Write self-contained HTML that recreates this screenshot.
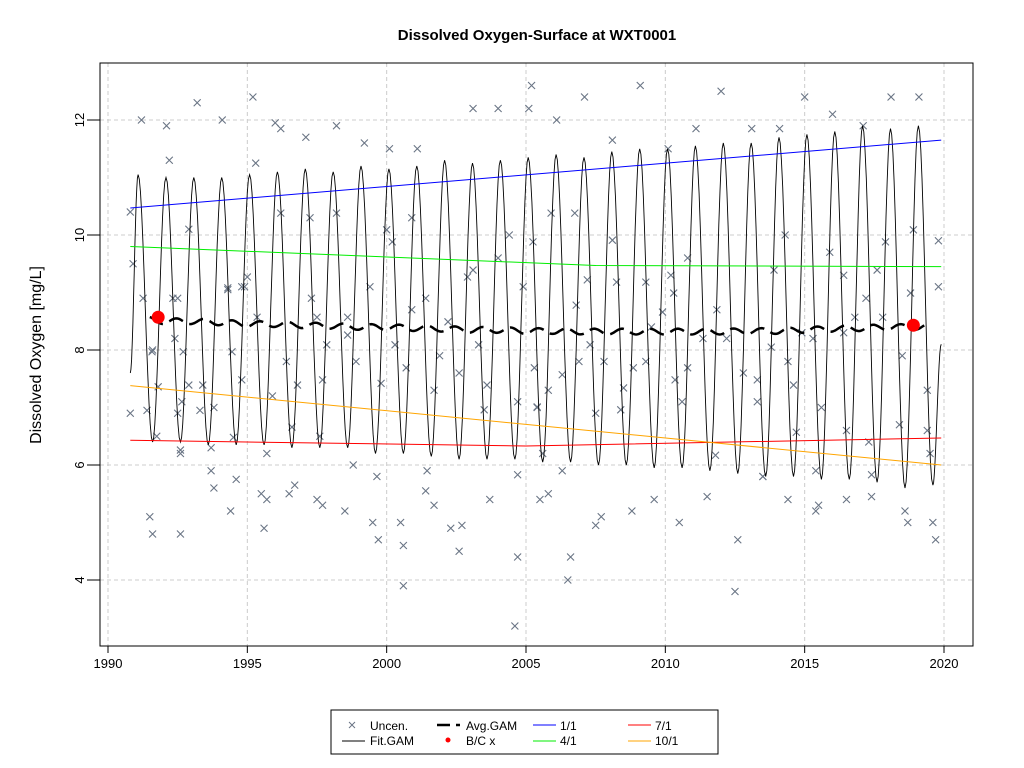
<!DOCTYPE html>
<html><head><meta charset="utf-8">
<style>
body{margin:0;background:#fff;}
svg{display:block;font-family:"Liberation Sans",Arial,sans-serif;}
</style></head>
<body>
<svg id="chart" width="1024" height="768" viewBox="0 0 1024 768">
<rect x="0" y="0" width="1024" height="768" fill="#fff"/>
<text x="537" y="40" text-anchor="middle" font-size="15" font-weight="bold">Dissolved Oxygen-Surface at WXT0001</text>
<text transform="translate(41,355) rotate(-90)" text-anchor="middle" font-size="16">Dissolved Oxygen [mg/L]</text>
<g id="grid"></g>
<g id="marks"></g>
<rect x="100" y="63" width="873" height="583" fill="none" stroke="#000"/>
<g id="axes"></g>
<g>
<rect x="331" y="710" width="387" height="44" fill="#fff" stroke="#000"/>
<g><path d="M349,722L355,728M355,722L349,728" stroke="#6a7585"/><text x="370" y="730" font-size="12">Uncen.</text></g>
<g><line x1="342" y1="741" x2="365" y2="741" stroke="#000"/><text x="370" y="745" font-size="12">Fit.GAM</text></g>
<g><line x1="437" y1="725" x2="450" y2="725" stroke="#000" stroke-width="2.5"/><line x1="456" y1="725" x2="460" y2="725" stroke="#000" stroke-width="2.5"/><text x="466" y="730" font-size="12">Avg.GAM</text></g>
<g><circle cx="448" cy="740" r="2.5" fill="red"/><text x="466" y="745" font-size="12">B/C x</text></g>
<g><line x1="533" y1="725" x2="556" y2="725" stroke="#0000ff"/><text x="560" y="730" font-size="12">1/1</text></g>
<g><line x1="533" y1="741" x2="556" y2="741" stroke="#00ee00"/><text x="560" y="745" font-size="12">4/1</text></g>
<g><line x1="628" y1="725" x2="651" y2="725" stroke="#ff0000"/><text x="655" y="730" font-size="12">7/1</text></g>
<g><line x1="628" y1="741" x2="651" y2="741" stroke="#ffa500"/><text x="655" y="745" font-size="12">10/1</text></g>
</g>
</svg>
<script>
const xTicks=[1990,1995,2000,2005,2010,2015,2020];
const yTicks=[4,6,8,10,12];
const obsYears=[1990.8,1990.9,1990.8,1991.2,1991.5,1991.6,1991.4,1991.6,1992.1,1992.2,1992.5,1992.6,1992.6,1993.2,1992.9,1993.3,1993.7,1993.8,1994.1,1994.3,1994.4,1994.6,1994.9,1995.2,1995.3,1995.5,1995.7,1995.6,1996.0,1996.2,1996.5,1996.7,1997.1,1997.5,1997.7,1998.2,1998.5,1998.8,1999.2,1999.5,1999.7,2000.1,2000.6,2000.6,2000.5,2001.1,2001.4,2001.7,2002.3,2002.6,2002.7,2003.1,2003.7,2004.0,2004.6,2004.7,2005.1,2005.2,2005.5,2005.8,2006.1,2006.5,2006.6,2007.1,2007.5,2007.7,2008.1,2008.8,2009.1,2009.6,2010.1,2010.5,2011.1,2011.5,2012.0,2012.5,2012.6,2013.1,2013.5,2014.1,2014.4,2015.0,2015.4,2015.5,2016.0,2016.5,2017.1,2017.4,2018.1,2018.6,2018.7,2019.1,2019.6,2019.7,2019.8,2019.8,
1991.26,1992.33,1991.58,1992.4,1992.7,1991.8,1992.9,1993.4,1992.65,1992.5,1993.8,1994.3,1994.8,1995.0,1995.35,1994.45,1994.8,1995.9,1996.4,1996.8,1996.6,1997.3,1997.5,1997.7,1997.85,1998.6,1998.6,1998.9,1999.4,1999.8,2000.2,2000.3,2000.7,2000.9,2001.4,2001.7,2001.9,2002.2,2002.6,2002.9,2003.3,2003.6,2003.5,2004.0,2004.7,2004.9,2005.25,2005.3,2005.4,2003.1,1996.2,1998.2,1997.25,2000.9,2004.4,2000.0,
2005.9,2006.75,2008.1,2007.2,2008.25,2009.3,2006.8,2007.3,2006.9,2007.8,2006.3,2005.8,2007.5,2008.4,2008.5,2008.85,2009.3,2009.5,2009.9,2010.3,2010.2,2010.8,2010.8,2010.35,2010.6,2011.8,2011.35,2011.85,2012.2,2012.8,2013.3,2013.3,2013.8,2014.4,2014.6,2014.7,2014.3,2013.9,2014.9,2015.3,2015.6,2015.9,2016.4,2016.4,2016.5,2016.8,2017.2,2017.8,2017.6,2017.9,2018.5,2018.8,2018.9,2019.4,2019.4,2019.5,2018.4,2017.3,2017.4,2015.4,2013.5,2006.3,2005.4,2005.6,
1992.6,1993.7,1995.7,1999.65,2001.45,2004.7,1991.75,1994.5,1997.6];
const obsValues=[10.4,9.5,6.9,12.0,5.1,4.8,6.95,8.0,11.9,11.3,8.9,4.8,6.2,12.3,10.1,6.95,5.9,5.6,12.0,9.05,5.2,5.75,9.1,12.4,11.25,5.5,5.4,4.9,11.95,11.85,5.5,5.65,11.7,5.4,5.3,11.9,5.2,6.0,11.6,5.0,4.7,11.5,3.9,4.6,5.0,11.5,5.55,5.3,4.9,4.5,4.95,12.2,5.4,12.2,3.2,4.4,12.2,12.6,5.4,5.5,12.0,4.0,4.4,12.4,4.95,5.1,11.65,5.2,12.6,5.4,11.5,5.0,11.85,5.45,12.5,3.8,4.7,11.85,5.8,11.85,5.4,12.4,5.2,5.3,12.1,5.4,11.9,5.45,12.4,5.2,5.0,12.4,5.0,4.7,9.9,9.1,
8.9,8.9,7.97,8.2,7.97,7.36,7.39,7.39,7.1,6.9,7.0,9.08,9.1,9.27,8.57,7.97,7.48,7.2,7.8,7.39,6.66,8.9,8.57,7.48,8.09,8.26,8.57,7.8,9.1,7.42,9.88,8.09,7.69,8.7,8.9,7.3,7.9,8.49,7.6,9.27,8.09,7.39,6.96,9.6,7.1,9.1,9.88,7.69,7.01,9.39,10.38,10.38,10.3,10.3,10.0,10.09,
10.38,10.38,9.91,9.22,9.18,9.18,8.78,8.09,7.8,7.8,7.57,7.3,6.9,6.96,7.34,7.69,7.8,8.4,8.66,8.99,9.3,9.6,7.69,7.48,7.1,6.17,8.2,8.7,8.2,7.6,7.48,7.1,8.05,7.8,7.39,6.57,10.0,9.39,8.3,8.2,7.0,9.7,9.3,8.3,6.6,8.57,8.9,8.57,9.39,9.88,7.9,8.99,10.09,7.3,6.6,6.2,6.7,6.4,5.83,5.9,5.8,5.9,7.0,6.2,
6.26,6.3,6.2,5.8,5.9,5.83,6.5,6.48,6.5];
const peakValues=[11.05,11.0,11.0,11.0,11.05,11.1,11.15,11.1,11.2,11.15,11.2,11.3,11.25,11.3,11.35,11.4,11.35,11.45,11.5,11.5,11.55,11.6,11.6,11.7,11.75,11.8,11.9,11.85,11.9];
const troughValues=[6.4,6.4,6.35,6.35,6.35,6.3,6.3,6.3,6.2,6.2,6.15,6.1,6.1,6.1,6.05,6.05,6.0,6.0,5.95,5.95,5.9,5.85,5.8,5.8,5.75,5.75,5.7,5.6,5.65];
const fitStart=[1990.8,7.6];
const fitEnd=[2019.9,8.1];
const avgValues=[8.55,8.5,8.5,8.48,8.45,8.45,8.43,8.42,8.4,8.4,8.38,8.37,8.35,8.35,8.33,8.33,8.32,8.32,8.32,8.32,8.32,8.32,8.33,8.33,8.35,8.37,8.38,8.4,8.4];
const line11=[[1990.8,10.47],[2019.9,11.65]];
const line41=[[1990.8,9.8],[2007.5,9.47],[2019.9,9.45]];
const line71=[[1990.8,6.43],[2005.0,6.33],[2019.9,6.47]];
const line101=[[1990.8,7.38],[2019.9,6.0]];
const bcPoints=[[1991.8,8.57],[2018.9,8.43]];

const NS="http://www.w3.org/2000/svg";
const X=v=>108+(v-1990)*(836/30);
const Y=v=>120+(12-v)*57.5;
function mk(tag,attrs,parent){const e=document.createElementNS(NS,tag);for(const k in attrs)e.setAttribute(k,attrs[k]);parent.appendChild(e);return e;}
const grid=document.getElementById('grid'),marks=document.getElementById('marks'),axes=document.getElementById('axes');
xTicks.forEach(t=>{
  const g=mk('line',{x1:X(t),x2:X(t),y1:63,y2:646,stroke:'#cccccc','stroke-dasharray':'4,3'},grid);
  
  
  const tk=mk('line',{x1:X(t),x2:X(t),y1:646,y2:653,stroke:'#000'},axes);
  
  
  const tx=mk('text',{x:X(t),y:668,'text-anchor':'middle','font-size':13},axes);tx.textContent=t;
  
  
});
yTicks.forEach(t=>{
  const g=mk('line',{x1:100,x2:973,y1:Y(t),y2:Y(t),stroke:'#cccccc','stroke-dasharray':'4,3'},grid);
  
  
  const tk=mk('line',{x1:87,x2:100,y1:Y(t),y2:Y(t),stroke:'#000'},axes);
  
  
  const tx=mk('text',{transform:`translate(84,${Y(t)}) rotate(-90)`,'text-anchor':'middle','font-size':13},axes);tx.textContent=t;
  
  
});
obsYears.forEach((yr,i)=>{
  const cx=X(yr),cy=Y(obsValues[i]);
  const p=mk('path',{d:`M${cx-3.5},${cy-3.5}L${cx+3.5},${cy+3.5}M${cx+3.5},${cy-3.5}L${cx-3.5},${cy+3.5}`,stroke:'#6a7585','stroke-width':1.1},marks);
  
  
});
const ext=[fitStart];
peakValues.forEach((p,i)=>{ext.push([1991.08+i,p]);ext.push([1991.6+i,troughValues[i]]);});
ext.push(fitEnd);
let d='';
for(let i=0;i<ext.length-1;i++){
  const [x0,y0]=ext[i],[x1,y1]=ext[i+1];
  for(let s=0;s<=12;s++){const f=s/12;const v=y0+(y1-y0)*(1-Math.cos(Math.PI*f))/2;const xx=x0+(x1-x0)*f;d+=(d?'L':'M')+X(xx).toFixed(1)+','+Y(v).toFixed(1);}
}
const fit=mk('path',{d:d,fill:'none',stroke:'#000','stroke-width':0.9},marks);


[[line11,'#0000ff','line-1-1'],[line41,'#00ee00','line-4-1'],[line71,'#ff0000','line-7-1'],[line101,'#ffa500','line-10-1']].forEach(([pts,c,n])=>{
  const p=mk('polyline',{points:pts.map(q=>X(q[0])+','+Y(q[1])).join(' '),fill:'none',stroke:c,'stroke-width':1},marks);
  
  
});
let ad='';
for(let x=1991.5;x<=2019.3;x+=0.05){
  const idx=Math.min(avgValues.length-1,Math.max(0,x-1991));const i0=Math.floor(idx),i1=Math.min(avgValues.length-1,i0+1);
  const v=avgValues[i0]+(avgValues[i1]-avgValues[i0])*(idx-i0)+0.05*Math.sin(2*Math.PI*(x-0.2));
  ad+=(ad?'L':'M')+X(x).toFixed(1)+','+Y(v).toFixed(1);
}
const avg=mk('path',{d:ad,fill:'none',stroke:'#000','stroke-width':2.5,'stroke-dasharray':'15,7'},marks);


bcPoints.forEach(p=>{
  const c=mk('circle',{cx:X(p[0]),cy:Y(p[1]),r:6.5,fill:'red'},marks);
  
  
});
</script>
</body></html>
